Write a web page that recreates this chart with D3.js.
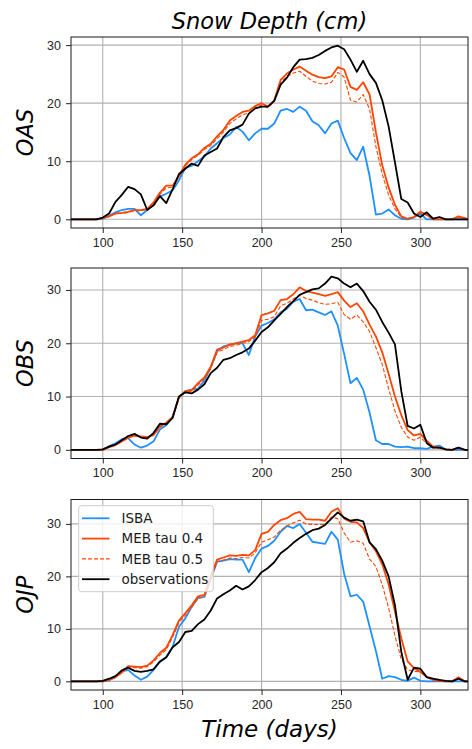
<!DOCTYPE html>
<html>
<head>
<meta charset="utf-8">
<script src="https://d3js.org/d3.v7.min.js"></script>
<style>
  html, body { margin: 0; padding: 0; background: #fff; }
  svg { display: block; font-family: "DejaVu Sans", sans-serif; }
  .tick text { font-size: 12.5px; fill: #262626; }
  .tick line { stroke: #262626; }
  .domain { display: none; }
</style>
</head>
<body>
<div id="chart"></div>
<script>
// day of year for every sample
var days = [80, 96, 100, 104, 108, 112, 116, 120, 124, 128, 132, 136, 140, 144, 148, 152, 156, 160,
  164, 168, 172, 176, 180, 184, 188, 192, 196, 200, 204, 208, 212, 216, 220, 224, 228, 232, 236,
  240, 244, 248, 252, 256, 260, 264, 268, 272, 276, 280, 284, 288, 292, 296, 300, 304, 308, 312,
  316, 320, 324, 328, 330];

// OAS
var oasIsba = [0,0,0.1,0.6,1.2,1.6,1.8,1.8,0.7,1.6, 2.8,3.9,4.4,5,6.7,8.9,9.2,10,10.8,12.2,
  13.1,14,14.6,15.9,15.1,13.6,14.8,15.6,15.6,16.5, 18.7,19,18.5,19.4,18.7,16.9,16.2,14.8,16.5,17,
  14,11.4,10.2,12.5,7.5,0.8,1,1.7,0.7,0.1, 0,0.3,1,0,0,0,0,0,0,0,0];
var oasMeb04 = [0,0,0.2,0.5,1,1.1,1.3,1.6,1.6,1.8, 2.9,4.6,5.8,5.8,7.5,9.4,10.5,11.2,12.3,13,
  14.3,15.4,17,17.8,18.5,18.7,19.5,20,19.4,20.5, 24,25.1,25.8,26.3,25.6,24.9,24.5,24.3,24.6,26.2,
  25.8,22.8,22.3,23.6,21.5,15,9.3,5.5,2.5,0.5, 0.1,0.4,1.3,0.8,0,0,0,0,0.5,0.2,0];
var oasMeb05 = [0,0,0.2,0.5,1,1,1.2,1.5,1.5,1.7, 2.7,4.3,5.4,5.5,7.3,9.2,10.3,11,12,12.7,
  13.9,15,16.5,17.3,18,18.3,19.2,19.7,19.2,20.3, 23.6,24.6,25.2,25.5,24.6,23.8,23.4,23.3,23.6,25.3,
  24.5,20.5,20.2,21.5,19,12.5,7.8,4.2,1.8,0.3, 0.1,0.4,1.2,0.7,0,0,0,0,0.4,0.2,0];
var oasObserved = [0,0,0.3,1,3,4.2,5.6,5.2,4.3,1.6, 2.4,4,2.8,5.2,7.8,8.7,9.6,9.2,11,11.6,
  12.2,14.2,15.3,15.7,16.3,18.2,19.1,19.4,19.4,20.4, 23.2,24.4,26.2,27.5,27.6,27.8,28.3,29,29.6,29.9,
  29.3,27.5,25.4,27.3,25,23.5,20.5,16,9.8,3.5, 2.9,1,0.4,1.2,0.1,0.4,0,0,0,0,0];

// OBS
var obsIsba = [0,0,0,0.7,1.2,2,2.2,1,0.4,0.8, 1.6,3.8,4.6,6.2,9.9,11,11.3,11.5,13,15.5,
  18.5,19.4,19.7,20,20,17.8,21.3,23.3,23.8,24.5, 25.8,26.5,27.8,28.3,26.2,26.3,25.8,25.3,26,23.3,
  18,12.5,13.5,11.3,7,1.8,1.1,1.1,0.6,0.5, 0.6,0.3,0.3,0.2,0.6,0.8,0,0,0,0,0];
var obsMeb04 = [0,0,0,0.5,0.9,1.6,2.3,2.7,2.5,2.4, 2.8,4.4,5.1,6.2,9.9,11,11.2,12.5,13.6,15.6,
  18.8,19.2,19.8,20,20.3,20.6,21.5,25.3,25.6,26.1, 28.1,28.3,29.2,30.5,29.8,29.5,29.2,28.9,29.2,29.6,
  28,26.8,27.5,26,23.5,21.3,18.3,14.3,10,6.5, 3.7,2.7,3,1.7,0.6,0.4,0.1,0,0.4,0,0];
var obsMeb05 = [0,0,0,0.5,0.9,1.5,2.2,2.6,2.4,2.3, 2.7,4.2,4.9,6,9.7,10.8,11,12.2,13.3,15.2,
  18.3,18.8,19.4,19.6,20,20.3,21.2,24.3,24.5,25, 27,27.5,28.3,29,28.4,28.1,27.6,27.3,27.4,27.7,
  25.4,24.5,25.3,24,22.2,19.2,16,11.5,7.3,4.2, 2.4,1.8,2.4,1.2,0.4,0.3,0.1,0,0.3,0,0];
var obsObserved = [0,0,0.1,0.6,1,1.8,2.6,3,2.3,2.1, 3.2,4.9,4.8,6,10,10.8,10.6,11.3,12.3,14.4,
  15.4,16.9,17.2,17.8,18.3,19,20.5,22.1,23,24.3, 25.5,26.8,27.9,29.1,29.6,30.1,30.3,31.2,32.5,32.2,
  31.2,30.5,31.2,29.8,27.8,26.3,24,22,19.8,11, 4.5,4,4.7,1.3,0.4,0.4,0.1,0,0.4,0,0];

// OJP
var ojpIsba = [0,0,0,0.2,0.8,1.9,2.2,1.1,0.3,0.9, 2.2,3.7,4.6,6.6,10.4,12,14.2,15.9,16.1,19.5,
  22.8,23,23.3,23.2,23.2,20.8,23.5,25.3,25.8,26.8, 28.5,29.6,29.2,30,28.3,26.6,26.4,26.2,28.5,27,
  20.5,16.2,16.5,15.2,10.5,5.8,0.5,1,0.8,0.3, 0.1,0.7,0.1,0,0,0,0,0,0,0,0];
var ojpMeb04 = [0,0,0,0.3,0.8,1.7,2.9,2.8,2.7,3, 4,5.4,6.4,8.8,11.6,13,14.5,16.2,16.5,20,
  23.2,23.6,24,23.9,24.1,24,25,28.1,28.5,29.8, 30.7,31.1,31.9,32.3,30.9,30.8,30.8,30.6,32.3,33,
  31,30.4,30.3,29.2,26.5,24.8,22.3,18.5,13.3,8.2, 3.8,2.5,1.8,0.8,0.3,0.1,0,0,0.8,0,0];
var ojpMeb05 = [0,0,0,0.3,0.8,1.6,2.7,2.6,2.5,2.8, 3.7,5,6,8.4,11.2,12.6,14.1,15.8,16.1,19.6,
  22.8,23.1,23.5,23.4,23.6,23.5,24.5,26.5,27,27.5, 28.8,29.6,30.2,30.7,30,29.9,29.9,29.9,31.3,31,
  28.3,26.5,26.8,26.3,23.3,21.9,18.4,14,8.7,4.2, 2.2,1.9,1.8,0.8,0.3,0,0,0,0.6,0,0];
var ojpObserved = [0,0,0.1,0.5,1,2.1,2.6,2,1.8,2, 2.3,3.8,4.6,6.5,7.5,9.4,9.6,10.9,11.8,13.5,
  15.8,16.6,17.3,18.2,17.5,18.1,19.3,20.8,21.6,22.7, 24.4,25.3,26.4,27.3,28.1,28.8,29.1,29.8,31,32.2,
  31.2,30.6,30.8,30.5,26.5,25.2,23,20,14.5,5.6, 0.3,2.6,2.4,0.8,0.5,0.3,0.1,0,0.5,0,0];

var sites = ["OAS", "OBS", "OJP"];
var seriesNames = ["ISBA", "MEB tau 0.4", "MEB tau 0.5", "observations"];
var xTicks = [100, 150, 200, 250, 300];
var yTicks = [0, 10, 20, 30];

var depth = {
  OAS: [oasIsba, oasMeb04, oasMeb05, oasObserved],
  OBS: [obsIsba, obsMeb04, obsMeb05, obsObserved],
  OJP: [ojpIsba, ojpMeb04, ojpMeb05, ojpObserved]
};

var colors = ["#1e90ff", "#ff4500", "#ff4500", "#000000"];
var widths = [1.8, 1.8, 1.1, 1.8];
var dashes = [null, null, "4,2", null];

var W = 472, H = 749;
var left = 71, right = 468;
var tops = [37, 268, 499.5], bottoms = [228, 458.5, 690];

var svg = d3.select("#chart").append("svg")
    .attr("width", W)
    .attr("height", H);

var x = d3.scaleLinear().domain([80, 330]).range([left, right]);

sites.forEach(function(site, p) {
    var series = depth[site];
    var hi = d3.max(series, function(s) { return d3.max(s); });
    var lo = d3.min(series, function(s) { return d3.min(s); });
    var pad = (hi - lo) * 0.05;
    var y = d3.scaleLinear().domain([lo - pad, hi + pad]).range([bottoms[p], tops[p]]);

    var g = svg.append("g");

    g.append("clipPath").attr("id", "clip" + p)
      .append("rect")
        .attr("x", left).attr("y", tops[p])
        .attr("width", right - left).attr("height", bottoms[p] - tops[p]);

    // grid
    g.selectAll(".vgrid").data(xTicks).enter().append("line")
        .attr("x1", x).attr("x2", x)
        .attr("y1", tops[p]).attr("y2", bottoms[p])
        .attr("stroke", "#b0b0b0").attr("stroke-width", 1.1);
    g.selectAll(".hgrid").data(yTicks).enter().append("line")
        .attr("x1", left).attr("x2", right)
        .attr("y1", y).attr("y2", y)
        .attr("stroke", "#b0b0b0").attr("stroke-width", 1.1);

    var line = d3.line()
        .x(function(d, i) { return x(days[i]); })
        .y(function(d) { return y(d); });

    var lines = g.append("g").attr("clip-path", "url(#clip" + p + ")");
    series.forEach(function(s, k) {
        lines.append("path")
            .attr("d", line(s))
            .attr("fill", "none")
            .attr("stroke", colors[k])
            .attr("stroke-width", widths[k])
            .attr("stroke-dasharray", dashes[k])
            .attr("stroke-linejoin", "round");
    });

    g.append("g")
        .attr("transform", "translate(0," + bottoms[p] + ")")
        .call(d3.axisBottom(x).tickValues(xTicks).tickSize(5).tickPadding(5));
    g.append("g")
        .attr("transform", "translate(" + left + ",0)")
        .call(d3.axisLeft(y).tickValues(yTicks).tickSize(5).tickPadding(5));

    g.append("rect")
        .attr("x", left).attr("y", tops[p])
        .attr("width", right - left).attr("height", bottoms[p] - tops[p])
        .attr("fill", "none").attr("stroke", "#1a1a1a").attr("stroke-width", 1);

    var cy = (tops[p] + bottoms[p]) / 2;
    g.append("text")
        .attr("transform", "translate(33," + cy + ") rotate(-90)")
        .attr("text-anchor", "middle")
        .style("font-size", "22.5px")
        .style("font-style", "italic")
        .text(site);
});

svg.append("text")
    .attr("x", (left + right) / 2).attr("y", 28.5)
    .attr("text-anchor", "middle")
    .style("font-size", "22.5px")
    .style("font-style", "italic")
    .text("Snow Depth (cm)");

svg.append("text")
    .attr("x", (left + right) / 2).attr("y", 737)
    .attr("text-anchor", "middle")
    .style("font-size", "23px")
    .style("font-style", "italic")
    .text("Time (days)");

// legend in the bottom panel
var legend = svg.append("g");
legend.append("rect")
    .attr("x", 78.7).attr("y", 505.7)
    .attr("width", 134.6).attr("height", 86)
    .attr("rx", 3)
    .attr("fill", "#fff").attr("fill-opacity", 0.8)
    .attr("stroke", "#cccccc").attr("stroke-width", 1);

var rowY = d3.scaleLinear().domain([0, 3]).range([518.3, 579.2]);
seriesNames.forEach(function(name, k) {
    legend.append("line")
        .attr("x1", 82).attr("x2", 109.5)
        .attr("y1", rowY(k)).attr("y2", rowY(k))
        .attr("stroke", colors[k])
        .attr("stroke-width", widths[k])
        .attr("stroke-dasharray", dashes[k]);
    legend.append("text")
        .attr("x", 121.5).attr("y", rowY(k) + 4.8)
        .style("font-size", "13.5px")
        .style("fill", "#1a1a1a")
        .text(name);
});
</script>
</body>
</html>
